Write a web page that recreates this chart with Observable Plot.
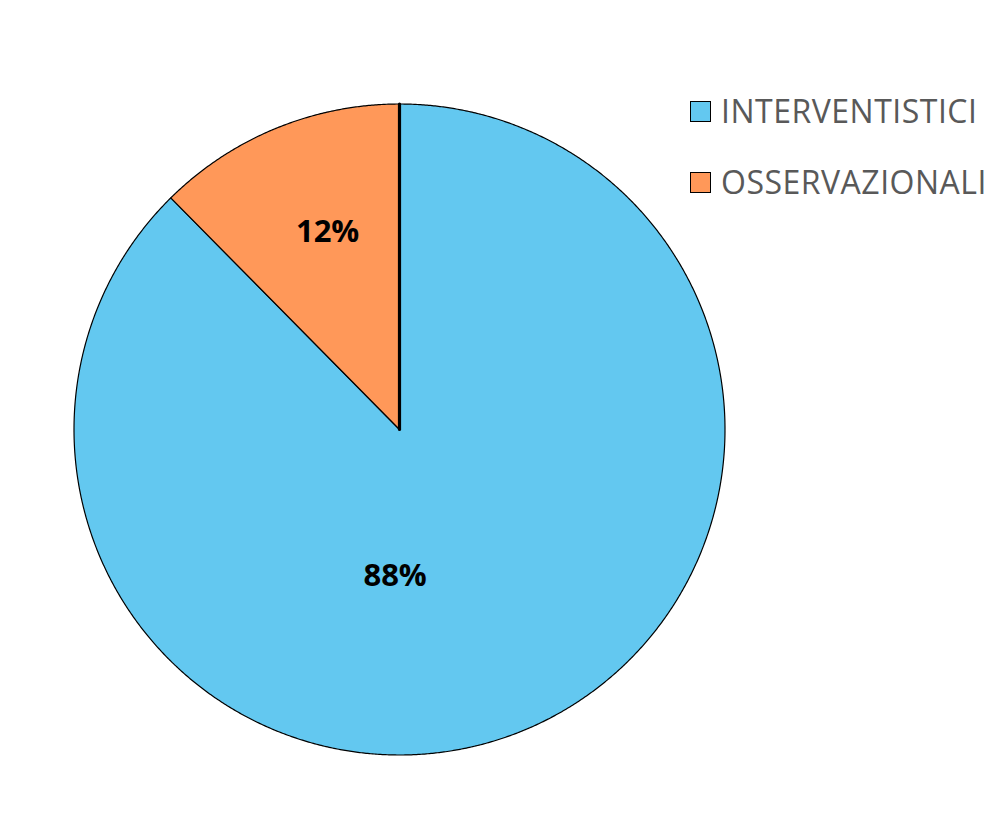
<!DOCTYPE html>
<html>
<head>
<meta charset="utf-8">
<script src="https://cdn.jsdelivr.net/npm/d3@7"></script>
<script src="https://cdn.jsdelivr.net/npm/@observablehq/plot@0.6"></script>
<style>
  html, body { margin: 0; padding: 0; background: #fff; }
  #wrap { position: relative; width: 988px; height: 836px; }
  #legend { position: absolute; left: 690px; top: 0; font-family: "Open Sans", sans-serif; color: #595959; }
  .item { position: absolute; left: 0; display: flex; align-items: center; white-space: nowrap; }
  .sw { width: 19px; height: 19px; border: 1px solid #000; margin-right: 10px; flex: none; }
  .lbl { font-size: 32px; line-height: 1; letter-spacing: 0.5px; }
</style>
</head>
<body>
<div id="wrap"><div id="chart"></div><div id="legend"></div></div>
<script>
// ---- data ----
const categories = ["INTERVENTISTICI", "OSSERVAZIONALI"];
const shares = [87.6, 12.4];
const valueLabels = ["88%", "12%"];
const colors = ["#63C8F0", "#FF9859"];

// ---- layout (pie from d3.pie, drawn through Plot scales) ----
const W = 988, H = 836;
const pie = d3.pie().sort(null).value(d => d.share)(categories.map((c, i) => ({cat: c, share: shares[i], label: valueLabels[i]})));

const pts = [];
for (const s of pie) {
  const n = Math.max(4, Math.ceil((s.endAngle - s.startAngle) / 0.005));
  pts.push({cat: s.data.cat, x: 0, y: 0});
  for (let k = 0; k <= n; k++) {
    const a = s.startAngle + (s.endAngle - s.startAngle) * k / n;
    pts.push({cat: s.data.cat, x: Math.sin(a), y: Math.cos(a)});
  }
}

// label placement: small slice near its mid angle, large slice below center (like the source)
const labelPts = pie.map(s => {
  const big = (s.endAngle - s.startAngle) > Math.PI;
  const a = big ? Math.PI + 0.03 : (s.startAngle + s.endAngle) / 2 + 0.04;
  const r = big ? 0.45 : 0.645;
  return {label: s.data.label, x: r * Math.sin(a), y: r * Math.cos(a)};
});

const start = [{x: 0, y: 0}, {x: Math.sin(pie[0].startAngle), y: Math.cos(pie[0].startAngle)}];

const chart = Plot.plot({
  width: W,
  height: H,
  marginLeft: 73.5,
  marginRight: W - 724.5,
  marginTop: 103.5,
  marginBottom: H - 754.5,
  x: {domain: [-1, 1], axis: null},
  y: {domain: [-1, 1], axis: null},
  color: {domain: categories, range: colors},
  style: {background: "#fff"},
  marks: [
    Plot.line(pts, {x: "x", y: "y", z: "cat", fill: "cat", stroke: "#000", strokeWidth: 1.2, curve: "linear-closed"}),
    Plot.line(start, {x: "x", y: "y", stroke: "#000", strokeWidth: 3.2}),
    Plot.text(labelPts, {x: "x", y: "y", text: "label", fontSize: 31, fontWeight: "bold", fill: "#000", fontFamily: "Open Sans, sans-serif"})
  ]
});
document.getElementById("chart").appendChild(chart);

// ---- legend ----
const legend = document.getElementById("legend");
const tops = [95, 166];
categories.forEach((c, i) => {
  const it = document.createElement("div");
  it.className = "item";
  it.style.top = tops[i] + "px";
  it.innerHTML = `<div class="sw" style="background:${colors[i]}"></div><span class="lbl">${c}</span>`;
  legend.appendChild(it);
});
</script>
</body>
</html>
